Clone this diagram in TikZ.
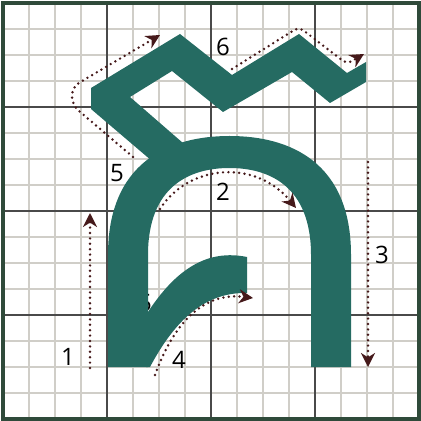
\documentclass[tikz,border=0pt]{standalone}
\usepackage{fontspec}
\setmainfont{Open Sans}
\usetikzlibrary{arrows.meta}
\definecolor{glyph}{HTML}{256B62}
\definecolor{minorline}{HTML}{D0CEC8}
\definecolor{majorline}{HTML}{4A4A4A}
\definecolor{frame}{HTML}{2F4A3A}
\definecolor{trace}{HTML}{45191A}
\tikzset{sc/.style={x=.5pt,y=-.5pt,font=\fontsize{12}{14}\selectfont},
  strokepath/.style={trace,line width=1.35pt,line cap=round,dash pattern=on 0pt off 2.7pt,
    -{Stealth[length=7pt,width=7pt,inset=2.2pt]}}}

\begin{document}
\begin{tikzpicture}[sc]
  \useasboundingbox (0,0) rectangle (421,421);
  \foreach \i in {0,...,16}{\draw[minorline,line width=1.1pt] (3+26*\i,3) -- (3+26*\i,419);
    \draw[minorline,line width=1.1pt] (3,3+26*\i) -- (419,3+26*\i);}
  \foreach \i in {1,2,3}{\draw[majorline,line width=1pt] (3+104*\i,3) -- (3+104*\i,419);
    \draw[majorline,line width=1pt] (3,3+104*\i) -- (419,3+104*\i);}
  \draw[frame,line width=1.6pt] (3,3) rectangle (419,419);
  \node (n5b) at (145,303) {5};
  % glyph
  \fill[glyph] (91,88) -- (180,34) -- (232,75) -- (299,34) -- (347,73) -- (366,62) -- (366,82)
    -- (330,103) -- (292,72) -- (223,112) -- (172,71) -- (130,97) -- (191,150) -- (159,167)
    -- (91,109) -- cycle;
  \fill[glyph] (108,367) -- (108,255) .. controls (108,163) and (168,136) .. (229.5,136)
    .. controls (291,136) and (351,163) .. (351,255) -- (351,367) -- (311,367) -- (311,255)
    .. controls (311,186) and (269,168) .. (229.5,168) .. controls (190,168) and (148,186) .. (148,255)
    -- (148,367) -- cycle;
  \fill[glyph] (146,367) -- (150,367) .. controls (175,320) and (205,292) .. (247,293) -- (247,257)
    .. controls (208,249) and (176,268) .. (146,315) -- cycle;
  % stroke order
  \draw[strokepath] (90,368) -- (90,213);
  \draw[strokepath] (160,209) .. controls (188,165) and (255,158) .. (296,208);
  \draw[strokepath] (368,162) -- (368,367);
  \draw[strokepath] (155,375) .. controls (175,320) and (205,292) .. (253,298);
  \draw[strokepath,rounded corners=4pt] (133,157) -- (72,105) -- (72,87) -- (160,35);
  \draw[strokepath,rounded corners=3pt] (232,69) -- (299,27) -- (347,64) -- (364,54);
  \node (n1) at (68,357) {1};
  \node (n2) at (223,192) {2};
  \node (n3) at (382,255) {3};
  \node (n4) at (179,360) {4};
  \node (n5) at (117,173) {5};
  \node (n6) at (223,47) {6};
\end{tikzpicture}
\end{document}
